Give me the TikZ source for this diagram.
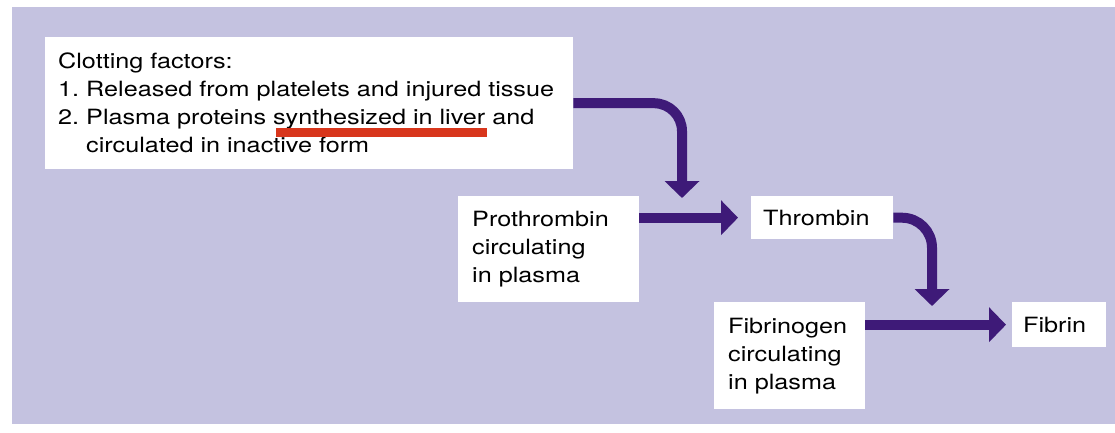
\documentclass[tikz,border=0pt]{standalone}
\usepackage{fontspec}
\setmainfont{TeX Gyre Heros}[FakeStretch=1.2]
\usetikzlibrary{arrows.meta,calc}
\definecolor{panelbg}{RGB}{196,194,224}
\definecolor{arrowpurple}{RGB}{62,26,120}
\definecolor{markred}{RGB}{216,54,28}
\frenchspacing

\begin{document}
\begin{tikzpicture}[
  x=1pt, y=-1pt,
  tag/.style   = {fill=white, anchor=north west, inner ysep=0pt, align=left,
                  font=\fontsize{21pt}{28pt}\selectfont},
  flow/.style  = {-{Triangle[width=34pt,length=17pt]}, draw=arrowpurple,
                  line width=10pt},
  redline/.style = {draw=markred, line width=8.5pt},
]
\useasboundingbox (0,0) rectangle (1115,432);
% lavender panel
\fill[panelbg] (12,7) rectangle (1115,424);

% Source of clotting factors
\node[tag, inner xsep=13pt, text width=502pt, minimum width=528pt,
      minimum height=132pt] (factors) at (45,37) {%
  Clotting factors:\\
  \mbox{1. Released from platelets and injured tissue}\\
  \mbox{2. Plasma proteins synthesized in liver and}\\
  \hphantom{2. }circulated in inactive form};

% Chain: prothrombin -> thrombin, fibrinogen -> fibrin
\node[tag, inner xsep=14pt, text width=153pt, minimum width=181pt,
      minimum height=106pt] (pro) at (458,196) {%
  Prothrombin\\ circulating\\ in plasma};
\node[tag, inner xsep=12pt, text width=118pt, minimum width=142pt,
      minimum height=43pt] (throm) at (751,196) {Thrombin};
\node[tag, inner xsep=14pt, text width=123pt, minimum width=151pt,
      minimum height=107pt] (fibg) at (714,302) {%
  Fibrinogen\\ circulating\\ in plasma};
\node[tag, inner xsep=11pt, text width=72pt, minimum width=94pt,
      minimum height=45pt] (fibrin) at (1012,302) {Fibrin};

% red underline on "synthesized in liver"
\draw[redline] (276,132.5) -- (487,132.5);

% where the bent arrows meet the straight ones
\coordinate (join1) at (682,198);
\coordinate (join2) at (932,306);

% Connector arrows
\draw[flow, rounded corners=28pt] (factors.east) -| (join1);
\draw[flow, shorten >=13pt] (pro.east |- throm.west) -- (throm.west);
\draw[flow, rounded corners=30pt] (throm.east) -| (join2);
\draw[flow, shorten >=6pt] (fibg.east |- fibrin.west) -- (fibrin.west);
\end{tikzpicture}
\end{document}
